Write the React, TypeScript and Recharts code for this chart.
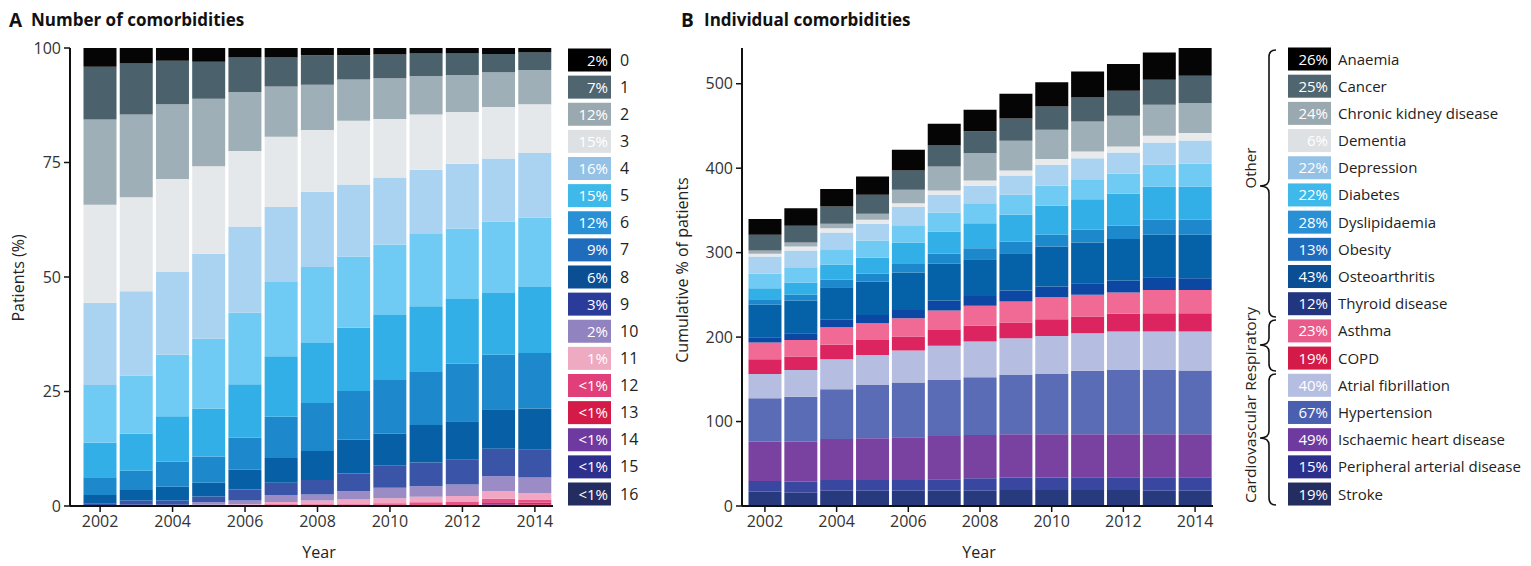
import React from 'react';
import { BarChart, Bar, XAxis, YAxis } from 'recharts';

// ---------- Panel A: number of comorbidities (% of patients) ----------
const years = [2002, 2003, 2004, 2005, 2006, 2007, 2008, 2009, 2010, 2011, 2012, 2013, 2014];
const countLabels = ['0', '1', '2', '3', '4', '5', '6', '7', '8', '9', '10', '11', '12', '13', '14', '15', '16'];
const countShares = ['2%', '7%', '12%', '15%', '16%', '15%', '12%', '9%', '6%', '3%', '2%', '1%', '<1%', '<1%', '<1%', '<1%', '<1%'];
const n0 = [4.1, 3.4, 2.8, 3.0, 2.1, 2.1, 1.6, 1.6, 1.4, 1.2, 1.2, 1.3, 1.0];
const n1 = [11.5, 11.1, 9.5, 8.1, 7.5, 6.3, 6.4, 5.3, 5.2, 4.9, 4.7, 4.0, 3.8];
const n2 = [18.6, 18.1, 16.3, 14.7, 12.9, 11.0, 9.9, 9.0, 8.9, 8.4, 8.1, 7.6, 7.5];
const n3 = [21.4, 20.5, 20.2, 19.1, 16.5, 15.3, 13.5, 13.9, 12.8, 12.1, 11.3, 11.2, 10.6];
const n4 = [18.0, 18.4, 18.2, 18.6, 18.8, 16.4, 16.4, 15.7, 14.6, 14.0, 14.1, 13.8, 14.1];
const n5 = [12.6, 12.7, 13.4, 15.2, 15.6, 16.2, 16.6, 15.6, 15.4, 15.8, 15.4, 15.6, 15.2];
const n6 = [7.5, 8.1, 9.9, 10.5, 11.7, 13.2, 13.1, 13.8, 14.2, 14.2, 14.1, 13.5, 14.4];
const n7 = [3.9, 4.2, 5.5, 5.7, 7.0, 9.0, 10.5, 10.6, 11.7, 11.7, 12.6, 11.9, 12.1];
const n8 = [1.9, 2.3, 3.0, 3.0, 4.3, 5.4, 6.3, 7.4, 6.9, 8.2, 8.4, 8.6, 9.0];
const n9 = [0.4, 0.9, 0.9, 1.3, 2.4, 2.7, 3.2, 3.9, 4.9, 5.2, 5.4, 6.0, 6.1];
const n10 = [0.1, 0.2, 0.2, 0.5, 0.8, 1.5, 1.3, 1.8, 2.3, 2.3, 2.5, 3.3, 3.4];
const n11 = [0, 0.1, 0.1, 0.3, 0.3, 0.5, 0.8, 1.0, 1.1, 1.2, 1.3, 1.6, 1.4];
const n12 = [0, 0, 0, 0, 0.1, 0.2, 0.2, 0.2, 0.3, 0.4, 0.5, 0.8, 0.7];
const n13 = [0, 0, 0, 0, 0, 0.1, 0.1, 0.1, 0.2, 0.2, 0.2, 0.4, 0.4];
const n14 = [0, 0, 0, 0, 0, 0.1, 0.1, 0.1, 0.1, 0.1, 0.1, 0.2, 0.2];
const n15 = [0, 0, 0, 0, 0, 0, 0, 0, 0, 0.1, 0.1, 0.1, 0.1];
const n16 = [0, 0, 0, 0, 0, 0, 0, 0, 0, 0, 0, 0.1, 0];
const countSeries = [n0, n1, n2, n3, n4, n5, n6, n7, n8, n9, n10, n11, n12, n13, n14, n15, n16];
const ticksA = [0, 25, 50, 75, 100];

// ---------- Panel B: individual comorbidities (cumulative %) ----------
const condNames = [
  'Anaemia', 'Cancer', 'Chronic kidney disease', 'Dementia', 'Depression', 'Diabetes',
  'Dyslipidaemia', 'Obesity', 'Osteoarthritis', 'Thyroid disease', 'Asthma', 'COPD',
  'Atrial fibrillation', 'Hypertension', 'Ischaemic heart disease', 'Peripheral arterial disease', 'Stroke',
];
const condShares = ['26%', '25%', '24%', '6%', '22%', '22%', '28%', '13%', '43%', '12%', '23%', '19%', '40%', '67%', '49%', '15%', '19%'];
const groupLabels = ['Other', 'Cardiovascular Respiratory'];
const anaemia = [18.6, 20.9, 20.6, 21.7, 24.5, 25.7, 25.6, 29.3, 28.5, 30.8, 31.6, 32.4, 32.8];
const cancer = [18.6, 19.8, 20.5, 22.5, 22.9, 24.9, 25.7, 26.4, 27.6, 28.5, 29.6, 29.6, 32.4];
const ckd = [3.9, 4.8, 5.1, 7.1, 15.8, 28.4, 32.4, 35.2, 34.7, 35.5, 36.4, 36.7, 35.5];
const dementia = [3.2, 4.7, 5.2, 4.8, 4.7, 5.1, 6.4, 5.9, 6.8, 7.9, 7.1, 7.9, 8.8];
const depression = [20.5, 19.7, 19.7, 19.8, 21.4, 21.0, 20.5, 22.9, 24.9, 24.9, 25.2, 26.5, 27.6];
const diabetes = [17.0, 18.2, 18.2, 20.5, 20.5, 22.4, 23.7, 23.7, 23.6, 23.7, 23.7, 25.7, 26.9];
const dyslipidaemia = [13.0, 14.6, 18.1, 18.9, 24.5, 26.5, 29.6, 31.6, 34.4, 36.3, 37.9, 39.4, 39.4];
const obesity = [6.7, 7.1, 8.7, 9.1, 11.1, 11.9, 13.0, 13.8, 13.9, 15.0, 15.8, 17.8, 17.8];
const osteoarthritis = [38.3, 38.3, 38.7, 39.5, 44.2, 43.4, 43.5, 44.3, 47.4, 48.2, 49.1, 50.2, 51.3];
const thyroid = [6.4, 7.9, 8.7, 9.8, 9.8, 11.9, 11.8, 13.0, 12.6, 13.8, 14.2, 15.0, 13.9];
const asthma = [19.7, 19.8, 20.9, 19.8, 21.8, 22.9, 23.7, 24.8, 26.0, 25.7, 25.2, 27.6, 27.6];
const copd = [17.4, 15.8, 17.0, 17.8, 16.6, 18.9, 18.6, 18.6, 19.8, 19.7, 20.9, 21.7, 21.7];
const atrialFib = [28.8, 31.6, 35.5, 35.5, 37.9, 40.3, 42.3, 43.5, 45.0, 44.6, 45.5, 45.5, 46.3];
const hypertension = [51.4, 53.3, 58.9, 63.2, 64.7, 66.4, 68.3, 70.2, 71.4, 75.0, 76.1, 76.1, 75.3];
const ihd = [46.6, 47.4, 48.6, 49.4, 50.6, 51.3, 51.3, 51.5, 51.5, 51.0, 51.0, 51.0, 51.0];
const pad = [12.6, 13.0, 12.7, 12.7, 12.7, 13.5, 14.7, 14.5, 14.5, 15.0, 15.0, 15.9, 15.9];
const stroke = [17.0, 15.8, 18.1, 18.1, 18.1, 18.1, 18.1, 19.0, 19.0, 19.0, 19.0, 18.1, 18.1];
const condSeries = [anaemia, cancer, ckd, dementia, depression, diabetes, dyslipidaemia, obesity,
  osteoarthritis, thyroid, asthma, copd, atrialFib, hypertension, ihd, pad, stroke];
const ticksB = [0, 100, 200, 300, 400, 500];

// ---------- styles ----------
const FONT = '"Open Sans", "DejaVu Sans", sans-serif';
const barColorsA = ['#050505', '#4b616c', '#9eafb7', '#e5e8ea', '#aad3f1', '#6fcbf3', '#33afe7', '#1d88cc',
  '#0760a6', '#3a55a8', '#9b8cc6', '#f1a7c1', '#e8528a', '#dc2358', '#6b3da0', '#2e2f8f', '#253169'];
const legendColorsA = ['#000000', '#4f6570', '#9aa9b0', '#dde1e4', '#93c2e6', '#3fb8ea', '#2a90d6', '#1f6cbd',
  '#0a4e93', '#2a3b9a', '#9182c0', '#eeaac0', '#e03f7a', '#d41a47', '#6e3aa0', '#2c2f8c', '#232d60'];
const barColorsB = ['#050505', '#4b616c', '#9eafb7', '#e8eaeb', '#aad3f1', '#6fcbf3', '#33afe7', '#1d88cc',
  '#0561a8', '#0c47a3', '#f06a95', '#dc2560', '#b5bde0', '#5a6cb6', '#7a42a0', '#3a47a0', '#283a7e'];
const legendColorsB = ['#000000', '#4f6570', '#9aa9b0', '#dde1e4', '#93c2e6', '#3fb8ea', '#2a90d6', '#1f6cbd',
  '#0a4e93', '#22357f', '#e85b8a', '#d41a47', '#b5bde0', '#4a5fb0', '#6e3aa0', '#2c2f8c', '#232d60'];

const dataA = years.map((y, i) => {
  const row: Record<string, number> = { year: y };
  countSeries.forEach((s, k) => { row['n' + k] = s[i]; });
  return row;
});
const dataB = years.map((y, i) => {
  const row: Record<string, number> = { year: y };
  condSeries.forEach((s, k) => { row['c' + k] = s[i]; });
  return row;
});

const tickStyle = { fill: '#333', fontSize: 16, fontFamily: FONT };
const axisLine = { stroke: '#111', strokeWidth: 2 };

function Brace({ top, bottom, mid }: { top: number; bottom: number; mid: number }) {
  const xr = 1276, xm = 1269, xt = 1260, r = 7;
  const d = `M ${xr} ${top} Q ${xm} ${top} ${xm} ${top + r} L ${xm} ${mid - r} Q ${xm} ${mid} ${xt} ${mid} ` +
    `Q ${xm} ${mid} ${xm} ${mid + r} L ${xm} ${bottom - r} Q ${xm} ${bottom} ${xr} ${bottom}`;
  return <path d={d} fill="none" stroke="#111" strokeWidth={1.6} />;
}

export default function App() {
  const orderA = countLabels.map((_, k) => k).reverse();
  const orderB = condNames.map((_, k) => k).reverse();
  return (
    <div style={{ position: 'absolute', left: 0, top: 0, width: 1531, height: 566, overflow: 'hidden', background: '#fff', fontFamily: FONT }}>
      <div style={{ position: 'absolute', left: 0, top: 0 }}>
        <BarChart width={570} height={566} data={dataA} margin={{ top: 48, right: 17, bottom: 30, left: 0 }} barCategoryGap={1.5}>
          <XAxis dataKey="year" interval={1} padding={{ left: 12, right: 0 }} height={30} tickSize={6} tickMargin={4}
            tick={tickStyle} axisLine={axisLine} tickLine={{ stroke: '#111', strokeWidth: 1.5 }} />
          <YAxis type="number" domain={[0, 100]} ticks={ticksA} width={70} tickSize={6} tickMargin={3}
            tick={tickStyle} axisLine={axisLine} tickLine={{ stroke: '#111', strokeWidth: 1.5 }} />
          {orderA.map((k) => (
            <Bar key={k} dataKey={'n' + k} stackId="a" fill={barColorsA[k]} isAnimationActive={false} />
          ))}
        </BarChart>
      </div>
      <div style={{ position: 'absolute', left: 660, top: 0 }}>
        <BarChart width={563} height={566} data={dataB} margin={{ top: 48, right: 10, bottom: 30, left: 0 }} barCategoryGap={1.5}>
          <XAxis dataKey="year" interval={1} padding={{ left: 5, right: 0 }} height={30} tickSize={6} tickMargin={4}
            tick={tickStyle} axisLine={axisLine} tickLine={{ stroke: '#111', strokeWidth: 1.5 }} />
          <YAxis type="number" domain={[0, 542]} ticks={ticksB} width={82} tickSize={6} tickMargin={3}
            tick={tickStyle} axisLine={axisLine} tickLine={{ stroke: '#111', strokeWidth: 1.5 }} />
          {orderB.map((k) => (
            <Bar key={k} dataKey={'c' + k} stackId="b" fill={barColorsB[k]} isAnimationActive={false} />
          ))}
        </BarChart>
      </div>
      <svg width={1531} height={566} style={{ position: 'absolute', left: 0, top: 0, pointerEvents: 'none' }} fontFamily={FONT}>
        {/* titles */}
        <text x={9} y={27} fontSize={19} fontWeight={700} fill="#111">A</text>
        <text x={31} y={26} fontSize={17} fontWeight={700} fill="#111">Number of comorbidities</text>
        <text x={681} y={27} fontSize={19} fontWeight={700} fill="#111">B</text>
        <text x={704} y={26} fontSize={17} fontWeight={700} fill="#111">Individual comorbidities</text>
        {/* axis titles */}
        <text transform="translate(24,278) rotate(-90)" textAnchor="middle" fontSize={16} fill="#222">Patients (%)</text>
        <text transform="translate(688,270) rotate(-90)" textAnchor="middle" fontSize={16} fill="#222">Cumulative % of patients</text>
        <text x={319} y={558} textAnchor="middle" fontSize={16} fill="#222">Year</text>
        <text x={979} y={558} textAnchor="middle" fontSize={16} fill="#222">Year</text>
        {/* legend A */}
        {countLabels.map((lab, i) => {
          const cy = 60 + i * 27.125;
          return (
            <g key={lab}>
              <rect x={568} y={cy - 11.5} width={43} height={23} fill={legendColorsA[i]} />
              <text x={608} y={cy + 5.5} textAnchor="end" fontSize={15} fill="#fff">{countShares[i]}</text>
              <text x={620} y={cy + 5.5} fontSize={16} fill="#222">{lab}</text>
            </g>
          );
        })}
        {/* legend B */}
        {condNames.map((lab, i) => {
          const cy = 59 + i * 27.19;
          return (
            <g key={lab}>
              <rect x={1288} y={cy - 11.5} width={43} height={23} fill={legendColorsB[i]} />
              <text x={1328} y={cy + 5.5} textAnchor="end" fontSize={15} fill="#fff">{condShares[i]}</text>
              <text x={1338} y={cy + 5.5} fontSize={15} fill="#222">{lab}</text>
            </g>
          );
        })}
        {/* group braces */}
        <Brace top={50} bottom={317} mid={186} />
        <Brace top={320} bottom={371} mid={345} />
        <Brace top={374} bottom={505} mid={438} />
        <text transform="translate(1256,168) rotate(-90)" textAnchor="middle" fontSize={15} fill="#222">{groupLabels[0]}</text>
        <text transform="translate(1256,503) rotate(-90)" textAnchor="start" fontSize={15} fill="#222"
          textLength={196} lengthAdjust="spacingAndGlyphs">{groupLabels[1]}</text>
      </svg>
    </div>
  );
}
